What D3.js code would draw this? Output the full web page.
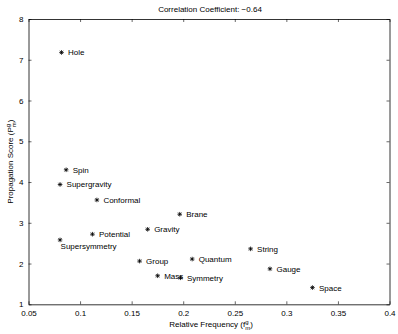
<!DOCTYPE html>
<html>
<head>
<meta charset="utf-8">
<script src="https://cdn.jsdelivr.net/npm/d3@7"></script>
<style>
body { margin: 0; background: #fff; }
text { font-family: "Liberation Sans", Arial, sans-serif; font-size: 8px; fill: #000; }
</style>
</head>
<body>
<svg width="398" height="334"></svg>
<script>
var terms = ['Hole', 'Spin', 'Supergravity', 'Conformal', 'Potential', 'Supersymmetry', 'Brane', 'Gravity',
    'Quantum', 'Group', 'Mass', 'Symmetry', 'String', 'Gauge', 'Space'];
var freq = [0.082, 0.0865, 0.0806, 0.1163, 0.112, 0.0806, 0.1966, 0.1655, 0.2087, 0.1577, 0.1752, 0.1973, 0.2653, 0.2841, 0.3253];
var score = [7.18, 4.30, 3.94, 3.56, 2.72, 2.58, 3.21, 2.84, 2.11, 2.06, 1.70, 1.65, 2.36, 1.87, 1.41];
var xTicks = [0.05, 0.1, 0.15, 0.2, 0.25, 0.3, 0.35, 0.4];
var yTicks = [1, 2, 3, 4, 5, 6, 7, 8];
var title = 'Correlation Coefficient: \u22120.64';

var plotL = 28.5, plotR = 389.5, plotT = 19, plotB = 304.3;
var svg = d3.select('svg');
var x = d3.scaleLinear().domain([0.05, 0.4]).range([plotL, plotR]);
var y = d3.scaleLinear().domain([1, 8]).range([plotB, plotT]);

var fmt = function (d) { return String(d); };

// axes, ticks inward on all four sides
svg.append('g').attr('transform', 'translate(0,' + plotB + ')')
    .call(d3.axisBottom(x).tickValues(xTicks).tickFormat(fmt).tickSizeInner(-3).tickSizeOuter(0).tickPadding(6));
svg.append('g').attr('transform', 'translate(0,' + plotT + ')')
    .call(d3.axisTop(x).tickValues(xTicks).tickFormat('').tickSizeInner(-3).tickSizeOuter(0));
svg.append('g').attr('transform', 'translate(' + plotL + ',0)')
    .call(d3.axisLeft(y).tickValues(yTicks).tickFormat(fmt).tickSizeInner(-3).tickSizeOuter(0).tickPadding(5));
svg.append('g').attr('transform', 'translate(' + plotR + ',0)')
    .call(d3.axisRight(y).tickValues(yTicks).tickFormat('').tickSizeInner(-3).tickSizeOuter(0));

svg.selectAll('.domain').attr('stroke', '#000').attr('stroke-width', 0.8);
svg.selectAll('.tick line').attr('stroke', '#000').attr('stroke-width', 0.6);
svg.selectAll('.tick text').style('font-family', '"Liberation Sans", Arial, sans-serif').style('font-size', '8px').attr('fill', '#000');

// title
svg.append('text').attr('x', 210).attr('y', 12).attr('text-anchor', 'middle').text(title);

// x label
var xl = svg.append('text').attr('x', 211).attr('y', 327).attr('text-anchor', 'middle');
xl.append('tspan').text('Relative Frequency (f');
xl.append('tspan').attr('dy', -3).style('font-size', '6px').text('g');
xl.append('tspan').attr('dx', -3.4).attr('dy', 6).style('font-size', '6px').text('m');
xl.append('tspan').attr('dy', -3).text(')');

// y label
var yl = svg.append('text').attr('transform', 'translate(13,' + ((plotT + plotB) / 2) + ') rotate(-90)')
    .attr('text-anchor', 'middle');
yl.append('tspan').text('Propagation Score (P');
yl.append('tspan').attr('dy', -3).style('font-size', '6px').text('g');
yl.append('tspan').attr('dx', -3.4).attr('dy', 6).style('font-size', '6px').text('m');
yl.append('tspan').attr('dy', -3).text(')');

// points
var data = terms.map(function (t, i) { return { term: t, f: freq[i], s: score[i] }; });
var r = 2.3, rd = r * 0.72;
var star = 'M' + (-r) + ',0H' + r + 'M0,' + (-r) + 'V' + r +
    'M' + (-rd) + ',' + (-rd) + 'L' + rd + ',' + rd + 'M' + (-rd) + ',' + rd + 'L' + rd + ',' + (-rd);

var pts = svg.selectAll('g.pt').data(data).enter().append('g')
    .attr('class', 'pt')
    .attr('transform', function (d) { return 'translate(' + x(d.f) + ',' + y(d.s) + ')'; });

pts.append('path').attr('d', star).attr('stroke', '#000').attr('stroke-width', 0.8).attr('fill', 'none');

pts.append('text')
    .attr('x', function (d) { return d.term === 'Supersymmetry' ? 0.5 : 6.5; })
    .attr('y', function (d) { return d.term === 'Supersymmetry' ? 9.5 : 3; })
    .text(function (d) { return d.term; });
</script>
</body>
</html>
